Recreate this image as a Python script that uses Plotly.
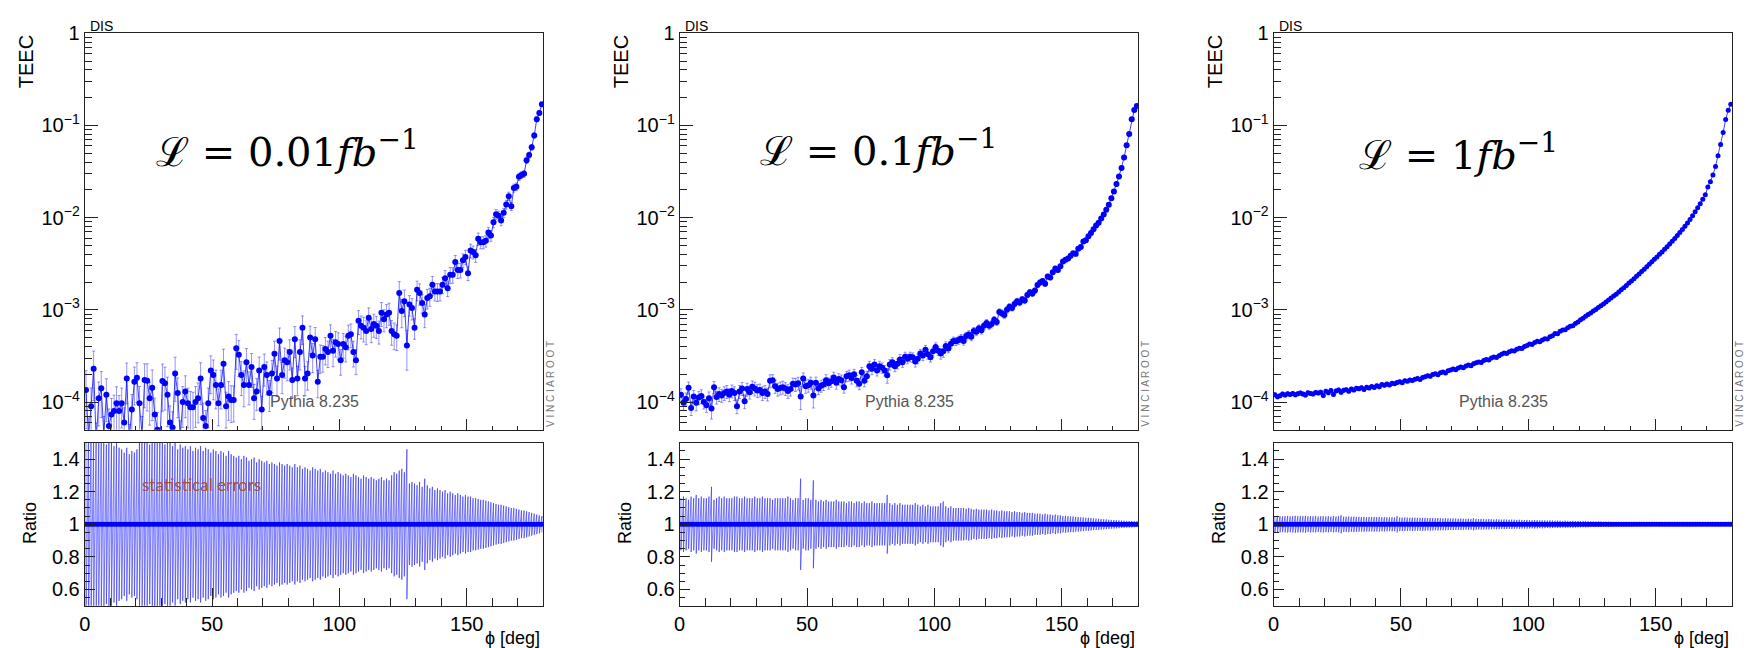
import math
import plotly.graph_objects as go

W, H = 1748, 648

# ---------------- data (bin centres in degrees, TEEC in units of 1e-4) ----------------
phi_deg = [i + 0.5 for i in range(180)]
teec_scale = 1e-4

teec_lumi_001 = [
    1.35, 0.42, 0.90, 2.30, 0.38, 1.10, 1.41, 0.45, 1.20, 0.55,
    0.73, 0.80, 0.97, 0.80, 0.97, 0.60, 1.80, 0.40, 0.83, 1.66,
    1.83, 0.97, 0.45, 1.73, 1.70, 1.10, 1.43, 0.73, 0.50, 0.35,
    1.69, 1.60, 1.20, 0.60, 0.53, 2.04, 1.25, 0.42, 1.00, 1.30,
    0.97, 0.88, 0.88, 1.00, 1.10, 1.80, 0.67, 0.55, 0.97, 2.20,
    1.96, 1.53, 0.97, 1.53, 2.60, 0.90, 1.15, 1.05, 1.05, 3.84,
    3.26, 1.96, 1.53, 2.70, 1.53, 2.40, 1.10, 1.30, 2.20, 0.83,
    2.40, 1.96, 1.25, 2.04, 3.34, 1.80, 4.60, 1.96, 2.83, 2.70,
    3.48, 1.73, 4.80, 1.80, 3.48, 6.40, 1.80, 2.04, 5.00, 3.20,
    4.80, 1.66, 3.10, 3.10, 3.77, 3.48, 5.25, 3.60, 4.45, 4.27,
    2.83, 4.27, 3.94, 5.25, 5.45, 3.48, 2.83, 7.60, 6.70, 6.40,
    5.90, 8.20, 6.20, 7.00, 6.70, 5.90, 9.30, 7.90, 8.90, 9.30,
    5.90, 5.45, 5.25, 15.2, 9.70, 12.4, 4.10, 11.4, 10.5, 6.40,
    16.5, 15.2, 11.9, 8.90, 13.4, 14.0, 18.7, 15.8, 15.8, 15.8,
    18.7, 22.0, 17.2, 24.0, 24.0, 33.0, 27.0, 27.0, 34.6, 37.5,
    25.0, 44.0, 42.4, 39.0, 59.0, 54.0, 54.0, 56.0, 69.0, 64.0,
    89.0, 109, 105, 93.0, 113, 139, 171, 133, 210, 217,
    278, 290, 300, 420, 477, 580, 780, 1170, 1370, 1700,
]
relerr_lumi_001 = [
    0.62, 0.60, 0.58, 0.55, 0.56, 0.50, 0.52, 0.55, 0.49, 0.53,
    0.50, 0.48, 0.51, 0.47, 0.46, 0.44, 0.47, 0.43, 0.45, 0.44,
    0.46, 0.52, 0.55, 0.50, 0.53, 0.49, 0.56, 0.51, 0.54, 0.50,
    0.53, 0.49, 0.55, 0.51, 0.48, 0.50, 0.46, 0.49, 0.47, 0.48,
    0.46, 0.48, 0.45, 0.47, 0.46, 0.48, 0.45, 0.47, 0.46, 0.44,
    0.46, 0.45, 0.43, 0.45, 0.44, 0.42, 0.45, 0.43, 0.42, 0.41,
    0.42, 0.40, 0.42, 0.41, 0.39, 0.40, 0.41, 0.38, 0.40, 0.39,
    0.38, 0.39, 0.37, 0.38, 0.37, 0.36, 0.38, 0.37, 0.36, 0.37,
    0.36, 0.35, 0.37, 0.35, 0.36, 0.34, 0.35, 0.34, 0.33, 0.35,
    0.34, 0.33, 0.34, 0.32, 0.33, 0.32, 0.31, 0.33, 0.31, 0.32,
    0.31, 0.30, 0.31, 0.30, 0.29, 0.31, 0.30, 0.29, 0.28, 0.30,
    0.29, 0.28, 0.29, 0.28, 0.27, 0.28, 0.29, 0.27, 0.28, 0.27,
    0.30, 0.32, 0.31, 0.33, 0.34, 0.32, 0.46, 0.25, 0.26, 0.25,
    0.24, 0.26, 0.23, 0.28, 0.24, 0.22, 0.23, 0.21, 0.22, 0.21,
    0.20, 0.21, 0.19, 0.20, 0.19, 0.18, 0.19, 0.18, 0.17, 0.18,
    0.17, 0.17, 0.16, 0.16, 0.155, 0.15, 0.15, 0.145, 0.14, 0.135,
    0.13, 0.125, 0.12, 0.12, 0.115, 0.11, 0.105, 0.10, 0.10, 0.095,
    0.09, 0.085, 0.085, 0.08, 0.075, 0.07, 0.065, 0.06, 0.055, 0.05,
]

teec_lumi_01 = [
    1.20, 0.98, 1.08, 1.43, 0.86, 1.15, 0.98, 1.12, 1.16, 1.00,
    0.92, 1.10, 0.85, 1.45, 1.13, 1.22, 1.18, 1.25, 1.30, 1.20,
    1.32, 1.25, 0.90, 1.30, 1.40, 1.02, 1.38, 1.28, 1.46, 1.40,
    1.33, 1.35, 1.25, 1.30, 1.22, 1.70, 1.72, 1.48, 1.38, 1.42,
    1.45, 1.40, 1.32, 1.38, 1.58, 1.55, 1.60, 1.15, 1.80, 1.48,
    1.52, 1.62, 1.18, 1.62, 1.40, 1.50, 1.55, 1.72, 1.60, 1.68,
    1.85, 1.62, 1.78, 1.72, 1.45, 1.90, 1.95, 1.82, 2.00, 1.70,
    1.58, 2.10, 1.70, 1.90, 2.45, 2.30, 2.55, 2.20, 2.45, 2.35,
    2.20, 1.95, 2.55, 2.70, 2.45, 2.60, 2.90, 2.70, 3.10, 2.95,
    3.10, 3.05, 2.75, 2.95, 3.35, 3.20, 3.70, 3.30, 3.05, 3.55,
    3.95, 3.60, 3.35, 3.55, 4.05, 3.80, 4.30, 4.60, 4.55, 4.70,
    4.90, 4.60, 5.20, 5.40, 5.10, 5.90, 5.80, 6.30, 6.00, 6.70,
    7.20, 6.70, 7.00, 7.80, 7.40, 9.50, 9.20, 8.80, 10.0, 10.8,
    10.5, 11.6, 12.4, 12.0, 13.0, 12.6, 14.5, 15.5, 15.0, 16.2,
    18.6, 19.8, 20.5, 19.2, 23.0, 22.5, 25.5, 28.0, 27.0, 29.8,
    33.5, 35.0, 36.0, 38.5, 41.0, 40.5, 46.0, 48.0, 55.0, 57.0,
    63.0, 68.0, 75.0, 82.0, 88.0, 98.0, 108, 122, 138, 162,
    192, 232, 280, 345, 450, 610, 810, 1170, 1470, 1630,
]
relerr_lumi_01 = [
    0.16, 0.17, 0.16, 0.15, 0.17, 0.16, 0.18, 0.16, 0.17, 0.16,
    0.16, 0.17, 0.23, 0.15, 0.16, 0.17, 0.16, 0.17, 0.16, 0.16,
    0.16, 0.17, 0.17, 0.16, 0.16, 0.17, 0.16, 0.16, 0.16, 0.17,
    0.16, 0.16, 0.17, 0.16, 0.16, 0.16, 0.15, 0.16, 0.16, 0.16,
    0.16, 0.16, 0.17, 0.16, 0.15, 0.16, 0.16, 0.28, 0.15, 0.16,
    0.16, 0.15, 0.27, 0.15, 0.14, 0.15, 0.14, 0.15, 0.14, 0.14,
    0.14, 0.15, 0.14, 0.14, 0.14, 0.13, 0.14, 0.14, 0.13, 0.14,
    0.14, 0.13, 0.14, 0.13, 0.13, 0.14, 0.13, 0.13, 0.13, 0.13,
    0.13, 0.18, 0.13, 0.12, 0.13, 0.12, 0.13, 0.12, 0.12, 0.12,
    0.12, 0.12, 0.13, 0.12, 0.11, 0.12, 0.11, 0.12, 0.11, 0.11,
    0.11, 0.11, 0.13, 0.14, 0.11, 0.10, 0.11, 0.10, 0.10, 0.10,
    0.10, 0.10, 0.095, 0.10, 0.095, 0.09, 0.095, 0.09, 0.09, 0.09,
    0.09, 0.085, 0.09, 0.085, 0.085, 0.08, 0.085, 0.08, 0.08, 0.08,
    0.075, 0.08, 0.075, 0.075, 0.07, 0.075, 0.07, 0.07, 0.07, 0.065,
    0.065, 0.065, 0.06, 0.065, 0.06, 0.06, 0.055, 0.06, 0.055, 0.055,
    0.05, 0.052, 0.05, 0.048, 0.048, 0.045, 0.045, 0.043, 0.042, 0.04,
    0.04, 0.038, 0.036, 0.035, 0.034, 0.032, 0.031, 0.03, 0.028, 0.027,
    0.026, 0.025, 0.024, 0.023, 0.022, 0.021, 0.02, 0.02, 0.018, 0.017,
]

teec_lumi_1 = [
    1.20, 1.14, 1.17, 1.22, 1.19, 1.23, 1.21, 1.24, 1.20, 1.23,
    1.25, 1.22, 1.19, 1.26, 1.24, 1.22, 1.27, 1.25, 1.28, 1.18,
    1.31, 1.26, 1.33, 1.21, 1.32, 1.35, 1.28, 1.34, 1.36, 1.31,
    1.38, 1.35, 1.41, 1.39, 1.43, 1.37, 1.45, 1.42, 1.47, 1.44,
    1.50, 1.46, 1.55, 1.52, 1.57, 1.53, 1.60, 1.58, 1.63, 1.66,
    1.62, 1.70, 1.68, 1.73, 1.71, 1.77, 1.80, 1.76, 1.84, 1.88,
    1.93, 1.90, 1.99, 2.03, 1.97, 2.08, 2.12, 2.06, 2.18, 2.22,
    2.28, 2.24, 2.34, 2.40, 2.36, 2.46, 2.52, 2.48, 2.60, 2.66,
    2.72, 2.68, 2.82, 2.90, 2.86, 3.00, 3.08, 3.04, 3.18, 3.30,
    3.40, 3.36, 3.52, 3.60, 3.58, 3.74, 3.84, 3.80, 4.00, 4.10,
    4.25, 4.22, 4.42, 4.55, 4.50, 4.72, 4.86, 4.82, 5.10, 5.25,
    5.55, 5.50, 5.85, 6.05, 6.10, 6.40, 6.65, 6.70, 7.10, 7.40,
    7.80, 8.10, 8.50, 8.90, 9.25, 9.70, 10.1, 10.6, 11.1, 11.6,
    12.2, 12.8, 13.4, 14.1, 14.8, 15.6, 16.5, 17.4, 18.4, 19.5,
    20.6, 21.8, 23.1, 24.5, 26.0, 27.6, 29.3, 31.2, 33.2, 35.3,
    37.5, 40.0, 42.5, 45.3, 48.4, 51.8, 55.5, 59.5, 64.0, 69.0,
    74.5, 80.5, 87.5, 95.5, 105, 116, 128, 142, 158, 177,
    215, 245, 290, 360, 470, 620, 840, 1160, 1460, 1700,
]
relerr_lumi_1 = [
    0.05, 0.052, 0.05, 0.048, 0.05, 0.051, 0.049, 0.05, 0.052, 0.05,
    0.049, 0.05, 0.052, 0.048, 0.05, 0.049, 0.05, 0.047, 0.049, 0.05,
    0.048, 0.049, 0.047, 0.05, 0.048, 0.049, 0.055, 0.047, 0.046, 0.048,
    0.046, 0.047, 0.045, 0.046, 0.045, 0.046, 0.044, 0.045, 0.044, 0.045,
    0.044, 0.045, 0.043, 0.044, 0.043, 0.042, 0.043, 0.042, 0.05, 0.042,
    0.041, 0.042, 0.041, 0.04, 0.041, 0.04, 0.04, 0.039, 0.04, 0.039,
    0.038, 0.039, 0.038, 0.037, 0.038, 0.037, 0.036, 0.037, 0.036, 0.035,
    0.036, 0.035, 0.034, 0.035, 0.034, 0.033, 0.034, 0.033, 0.038, 0.033,
    0.032, 0.033, 0.032, 0.031, 0.032, 0.031, 0.03, 0.031, 0.03, 0.029,
    0.03, 0.029, 0.028, 0.029, 0.028, 0.027, 0.028, 0.027, 0.026, 0.027,
    0.026, 0.025, 0.026, 0.025, 0.024, 0.025, 0.024, 0.023, 0.024, 0.023,
    0.022, 0.023, 0.022, 0.021, 0.022, 0.021, 0.02, 0.021, 0.02, 0.019,
    0.019, 0.018, 0.019, 0.018, 0.017, 0.017, 0.016, 0.017, 0.016, 0.015,
    0.015, 0.015, 0.014, 0.014, 0.014, 0.013, 0.013, 0.013, 0.012, 0.012,
    0.012, 0.011, 0.011, 0.011, 0.01, 0.01, 0.01, 0.0095, 0.0095, 0.009,
    0.009, 0.0085, 0.0085, 0.008, 0.008, 0.0078, 0.0075, 0.0072, 0.007, 0.0068,
    0.0065, 0.0062, 0.006, 0.0058, 0.0056, 0.0054, 0.0052, 0.005, 0.0048, 0.0046,
    0.0044, 0.0042, 0.004, 0.0038, 0.0036, 0.0034, 0.0032, 0.003, 0.0028, 0.0026,
]

lumi_labels = ["0.01", "0.1", "1"]
x_major_ticks = [0, 50, 100, 150]
teec_tickvals = [1e-4, 1e-3, 1e-2, 1e-1, 1]
teec_ticktext = ["10<sup>\u22124</sup>", "10<sup>\u22123</sup>", "10<sup>\u22122</sup>",
                 "10<sup>\u22121</sup>", "1"]
ratio_tickvals = [0.6, 0.8, 1.0, 1.2, 1.4]
ratio_ticktext = ["0.6", "0.8", "1", "1.2", "1.4"]

panels = [
    (teec_lumi_001, relerr_lumi_001),
    (teec_lumi_01, relerr_lumi_01),
    (teec_lumi_1, relerr_lumi_1),
]

# ---------------- layout geometry (pixels) ----------------
panel_left = [79.0, 676.0, 1272.0]
panel_w = 460.0
top_y0, top_y1 = 22.7, 426.0
rat_y0, rat_y1 = 439.3, 605.0
marker_sizes = [6, 6, 5]
math_y = [140, 139, 143]
math_dx = [203, 200, 186]

SANS = "Liberation Sans, Arial, Helvetica, sans-serif"
FRAME = "#222222"
BLUE = "#0000ff"


def fx(px):
    return px / W


def fy(py):
    return 1 - py / H


fig = go.Figure()
layout = dict(
    width=W, height=H, autosize=False,
    margin=dict(l=0, r=0, t=0, b=0, pad=0),
    paper_bgcolor="white", plot_bgcolor="white",
    showlegend=False,
    font=dict(family=SANS, color="black"),
)
annotations = []

minor_deg = [v for v in range(10, 180, 10) if v % 50 != 0]
minor_log = [k * 10.0 ** e for e in range(-5, 0) for k in range(2, 10) if k * 10.0 ** e >= 5e-5]
minor_ratio = [round(0.5 + 0.05 * k, 2) for k in range(21)]
minor_ratio = [v for v in minor_ratio if abs(v * 5 - round(v * 5)) > 1e-6]


def ann(**kw):
    base = dict(xref="paper", yref="paper", showarrow=False)
    base.update(kw)
    return base


for p, (vals, rel) in enumerate(panels):
    nt = 2 * p + 1
    nr = 2 * p + 2
    xt, yt = ("x" if nt == 1 else f"x{nt}"), ("y" if nt == 1 else f"y{nt}")
    xr, yr = f"x{nr}", f"y{nr}"
    L = panel_left[p]
    R = L + panel_w

    teec = [v * teec_scale for v in vals]
    err_abs = [t * e for t, e in zip(teec, rel)]

    # ---- top panel: TEEC with statistical error bars
    fig.add_trace(go.Scatter(
        x=phi_deg, y=teec, xaxis=xt, yaxis=yt, mode="lines+markers",
        line=dict(color="rgba(0,0,255,0.75)", width=1),
        marker=dict(color=BLUE, size=marker_sizes[p]),
        error_y=dict(type="data", array=err_abs, visible=True,
                     color="rgba(60,60,255,0.55)", thickness=1, width=1.5),
        hoverinfo="skip",
    ))

    # ---- ratio panel: error zig-zag + central line at 1
    ratio = [t / t for t in teec]
    zx, zy = [], []
    for xv, r, e in zip(phi_deg, ratio, rel):
        zx += [xv, xv]
        zy += [r + e, r - e]
    fig.add_trace(go.Scatter(
        x=zx, y=zy, xaxis=xr, yaxis=yr, mode="lines",
        line=dict(color="rgba(40,40,255,0.6)", width=1), hoverinfo="skip",
    ))
    fig.add_trace(go.Scatter(
        x=phi_deg, y=ratio, xaxis=xr, yaxis=yr, mode="lines+markers",
        line=dict(color=BLUE, width=3), marker=dict(color=BLUE, size=5),
        hoverinfo="skip",
    ))

    common = dict(showline=True, mirror=True, linecolor=FRAME, linewidth=1,
                  showgrid=False, zeroline=False, ticks="inside", tickcolor=FRAME,
                  tickwidth=1)
    sx = "" if nt == 1 else str(nt)
    layout[f"xaxis{sx}"] = dict(
        common, domain=[fx(L), fx(R)], range=[0, 180], anchor=yt,
        tickmode="array", tickvals=x_major_ticks, ticklen=11, showticklabels=False,
        minor=dict(tickvals=minor_deg, ticklen=4, ticks="inside", tickcolor=FRAME, showgrid=False),
    )
    layout[f"yaxis{sx}"] = dict(
        common, type="log", domain=[fy(top_y1), fy(top_y0)],
        range=[math.log10(5e-5), 0], anchor=xt,
        tickmode="array", tickvals=teec_tickvals, ticktext=teec_ticktext, ticklen=13,
        tickfont=dict(size=20, family=SANS, color="black"),
        minor=dict(tickvals=minor_log, ticklen=7, ticks="inside", tickcolor=FRAME, showgrid=False),
    )
    layout[f"xaxis{nr}"] = dict(
        common, domain=[fx(L), fx(R)], range=[0, 180], anchor=yr,
        tickmode="array", tickvals=x_major_ticks, ticklen=18,
        tickfont=dict(size=20, family=SANS, color="black"),
        minor=dict(tickvals=minor_deg, ticklen=8, ticks="inside", tickcolor=FRAME, showgrid=False),
    )
    layout[f"yaxis{nr}"] = dict(
        common, domain=[fy(rat_y1), fy(rat_y0)], range=[0.5, 1.5], anchor=xr,
        tickmode="array", tickvals=ratio_tickvals, ticktext=ratio_ticktext, ticklen=10,
        tickfont=dict(size=20, family=SANS, color="black"),
        minor=dict(tickvals=minor_ratio, ticklen=5, ticks="inside", tickcolor=FRAME, showgrid=False),
    )

    # ---- texts
    annotations += [
        ann(text="TEEC", textangle=-90, x=fx(L - 59.5), y=fy(top_y0), xanchor="center",
            yanchor="top", font=dict(size=20, family=SANS, color="black")),
        ann(text="DIS", x=fx(L + 3), y=fy(15), xanchor="left", yanchor="middle",
            font=dict(size=14, family=SANS, color="black")),
        ann(text="Pythia 8.235", x=fx(L + 184), y=fy(397), xanchor="left", yanchor="middle",
            font=dict(size=16, family=SANS, color="#555555")),
        ann(text="V I N C I A R O O T", textangle=-90, x=fx(R + 8), y=fy(425), xanchor="center",
            yanchor="bottom", font=dict(size=10, family=SANS, color="#777777")),
        ann(text=f"\u2112 = {lumi_labels[p]}<i>fb</i><sup>\u22121</sup>",
            x=fx(L + math_dx[p]), y=fy(math_y[p]), xanchor="center", yanchor="middle",
            font=dict(size=40, family="DejaVu Serif, Liberation Serif, serif", color="black")),
        ann(text="Ratio", textangle=-90, x=fx(L - 55), y=fy(521), xanchor="center",
            yanchor="middle", font=dict(size=18, family=SANS, color="black")),
        ann(text="\u03d5 [deg]", x=fx(R - 1), y=fy(638), xanchor="right", yanchor="middle",
            font=dict(size=18, family=SANS, color="black")),
    ]

annotations.append(ann(
    text="statistical errors", x=fx(134), y=fy(482), xanchor="left", yanchor="middle",
    font=dict(size=17, family="Lato, Open Sans, sans-serif", color="#a4552c")))

layout["annotations"] = annotations
fig.update_layout(**layout)
fig.write_html("out.html")
